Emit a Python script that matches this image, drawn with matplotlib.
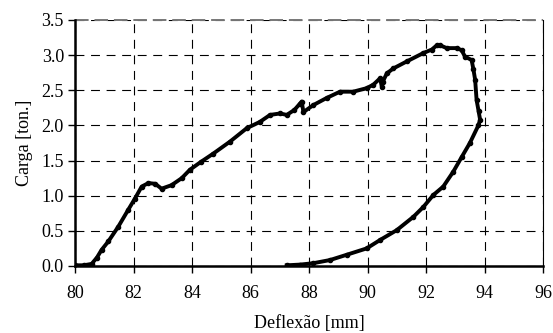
import matplotlib
matplotlib.use("Agg")
import matplotlib.pyplot as plt
from matplotlib.ticker import FormatStrFormatter

plt.rcParams['font.family'] = ['Liberation Serif', 'DejaVu Serif']

deflexao = [80.0, 80.3, 80.57, 80.75, 80.91, 81.14, 81.48, 81.82, 82.05, 82.28, 82.51,
            82.74, 82.96, 83.3, 83.65, 83.93, 84.3, 84.73, 85.3, 85.87, 86.32, 86.67,
            87.01, 87.24, 87.5, 87.69, 87.75, 87.81, 88.15, 88.6, 89.06, 89.51, 89.97,
            90.2, 90.43, 90.49, 90.52, 90.66, 90.88, 91.34, 91.91, 92.2, 92.37, 92.48,
            92.71, 93.05, 93.22, 93.33, 93.56, 93.62, 93.68, 93.73, 93.8, 93.85, 93.79,
            93.5, 93.22, 92.93, 92.59, 92.25, 91.91, 91.57, 91.0, 90.43, 89.97, 89.29,
            88.72, 88.15, 87.7, 87.24]
carga = [0.01, 0.01, 0.03, 0.12, 0.23, 0.35, 0.56, 0.8, 0.96, 1.13, 1.18,
         1.17, 1.1, 1.15, 1.25, 1.37, 1.48, 1.6, 1.77, 1.96, 2.05, 2.15,
         2.17, 2.15, 2.22, 2.31, 2.34, 2.19, 2.29, 2.39, 2.48, 2.48, 2.53,
         2.58, 2.67, 2.55, 2.62, 2.74, 2.81, 2.91, 3.03, 3.08, 3.14, 3.14,
         3.1, 3.1, 3.07, 2.98, 2.93, 2.8, 2.65, 2.36, 2.2, 2.08, 2.0,
         1.75, 1.55, 1.34, 1.13, 1.01, 0.84, 0.70, 0.51, 0.37, 0.25, 0.16,
         0.085, 0.04, 0.02, 0.01]

x_ticks = [80, 82, 84, 86, 88, 90, 92, 94, 96]
y_ticks = [0.0, 0.5, 1.0, 1.5, 2.0, 2.5, 3.0, 3.5]

fig = plt.figure(figsize=(5.53, 3.33), dpi=100)
ax = fig.add_axes([75/553, 1 - 266/333, 468/553, 246/333])

ax.plot(deflexao, carga, color='black', lw=2.8, marker='o', ms=3,
        solid_joinstyle='round', zorder=3)

ax.set_xlim(80, 96)
ax.set_ylim(0, 3.5)
ax.set_xticks(x_ticks)
ax.set_yticks(y_ticks)
ax.yaxis.set_major_formatter(FormatStrFormatter('%.1f'))
ax.xaxis.set_major_formatter(FormatStrFormatter('%d'))

ax.grid(True, color='black', linestyle=(0, (8, 6)), linewidth=0.8)
for s in ['left', 'bottom']:
    ax.spines[s].set_linewidth(1.8)
ax.spines['right'].set_linewidth(0.8)
ax.spines['top'].set_visible(False)
ax.axhline(3.5, color='#777777', linestyle=(0, (7, 3)), lw=1.4, clip_on=False)

ax.tick_params(direction='out', length=5, width=1, labelsize=13)
ax.tick_params(axis='y', pad=3)
ax.tick_params(axis='x', pad=9)
ax.set_xlabel('Deflexão [mm]', fontsize=13, labelpad=9)
ax.set_ylabel('Carga [ton.]', fontsize=13, labelpad=6)

fig.savefig('out.png', dpi=100)
